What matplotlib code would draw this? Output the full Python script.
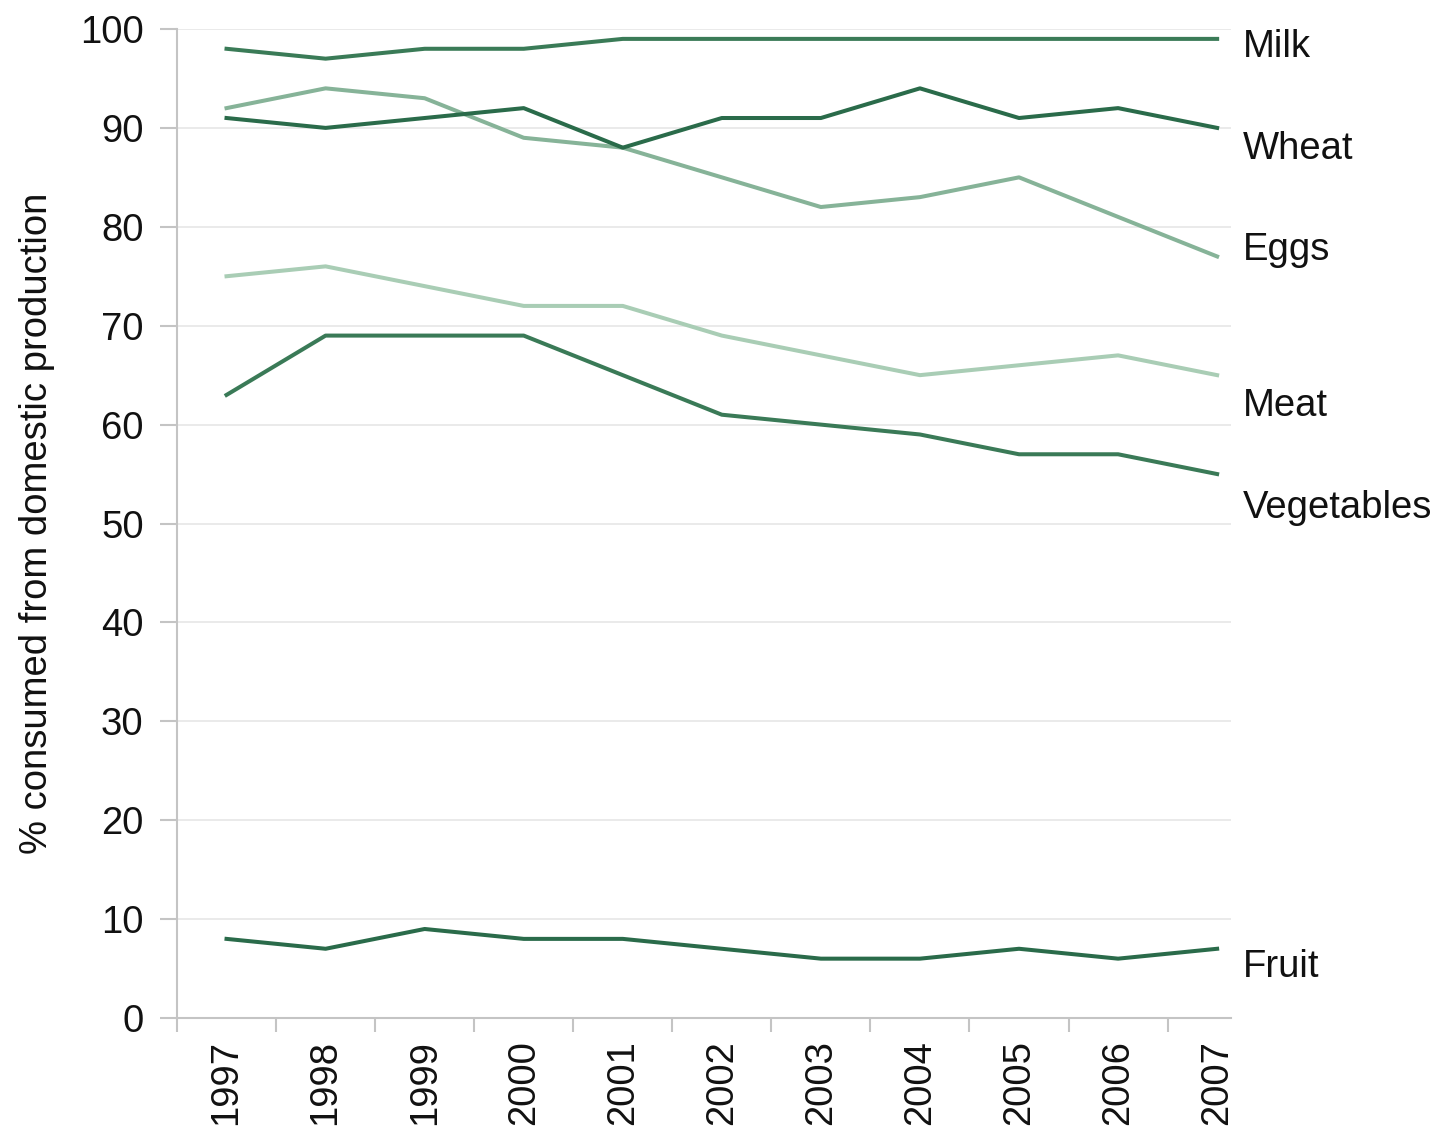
import matplotlib
matplotlib.use("Agg")
import matplotlib.pyplot as plt
import numpy as np

years = ["1997", "1998", "1999", "2000", "2001", "2002", "2003", "2004", "2005", "2006", "2007"]
milk = [98, 97, 98, 98, 99, 99, 99, 99, 99, 99, 99]
wheat = [91, 90, 91, 92, 88, 91, 91, 94, 91, 92, 90]
eggs = [92, 94, 93, 89, 88, 85, 82, 83, 85, 81, 77]
meat = [75, 76, 74, 72, 72, 69, 67, 65, 66, 67, 65]
vegetables = [63, 69, 69, 69, 65, 61, 60, 59, 57, 57, 55]
fruit = [8, 7, 9, 8, 8, 7, 6, 6, 7, 6, 7]

series_names = ["Milk", "Wheat", "Eggs", "Meat", "Vegetables", "Fruit"]
series_values = [milk, wheat, eggs, meat, vegetables, fruit]
series_colors = ["#3a7b57", "#2a6b4a", "#86b398", "#a9cdb5", "#3a7a57", "#2a6b4a"]
label_baselines = [97.2, 86.9, 76.6, 60.9, 50.6, 4.1]

plt.rcParams['font.family'] = ['Liberation Sans', 'DejaVu Sans']
FS = 27.5

fig = plt.figure(figsize=(14.43, 11.30), dpi=100)
ax = fig.add_axes([177/1443, 1 - 1018/1130, (1231-177)/1443, (1018-29)/1130])

x = np.arange(len(years))
order = [3, 2, 0, 1, 4, 5]
for i in order:
    ax.plot(x, series_values[i], color=series_colors[i], lw=2.9, solid_joinstyle='round', zorder=3)

for name, yb in zip(series_names, label_baselines):
    ax.text(1.0114, yb, name, transform=ax.get_yaxis_transform(), fontsize=FS,
            va='baseline', ha='left', color='#111111', clip_on=False)

ax.set_xlim(-0.5, 10.14)
ax.set_ylim(0, 100)
ax.set_yticks(np.arange(0, 101, 10))
ax.yaxis.grid(True, color='#e6e6e6', lw=1.2)
ax.set_axisbelow(True)

ax.set_xticks(x)
ax.set_xticklabels(years, rotation=90, fontsize=FS, color='#111111')
ax.set_xticks(np.arange(-0.5, 10, 1), minor=True)
ax.tick_params(axis='x', which='major', length=0, pad=16)
ax.tick_params(axis='x', which='minor', length=10, width=1.5, color='#c4c4c4', direction='out')
ax.tick_params(axis='y', length=12, width=1.5, color='#c4c4c4', labelsize=FS, labelcolor='#111111', pad=12)

for s in ['top', 'right']:
    ax.spines[s].set_visible(False)
for s in ['left', 'bottom']:
    ax.spines[s].set_color('#c4c4c4')
    ax.spines[s].set_linewidth(1.5)

ax.set_ylabel("% consumed from domestic production", fontsize=FS, color='#111111', labelpad=18)

fig.savefig("out.png", dpi=100)
